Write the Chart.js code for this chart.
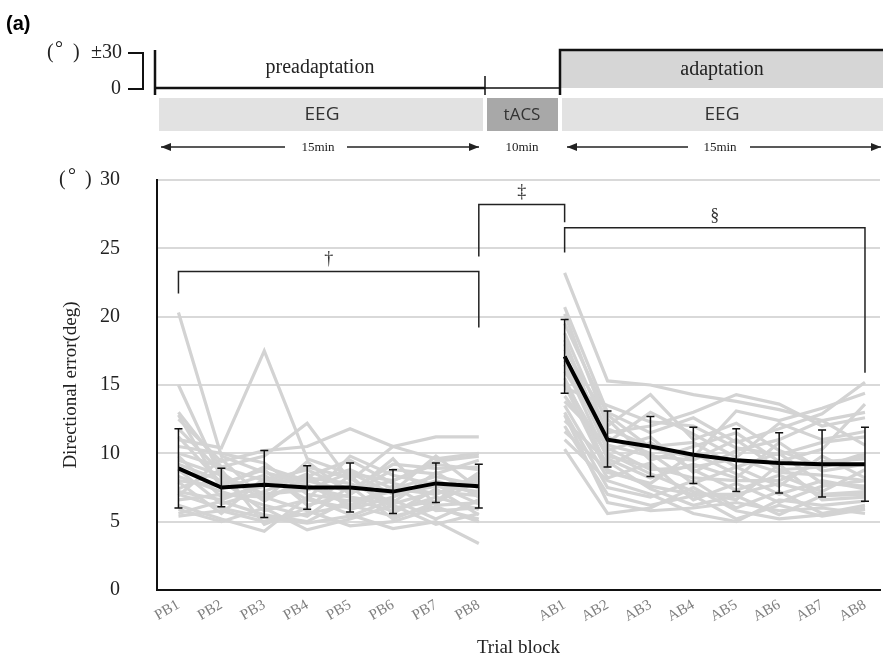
<!DOCTYPE html>
<html>
<head>
<meta charset="utf-8">
<script src="https://cdn.jsdelivr.net/npm/chart.js@4.4.0/dist/chart.umd.min.js"></script>
<style>
  html, body { margin: 0; padding: 0; background: #fff; }
</style>
</head>
<body>
<canvas id="trial-chart" width="883" height="663"></canvas>
<script>
const SERIF = '"Liberation Serif", "Times New Roman", serif';
const SANS = '"Open Sans", "Noto Sans", sans-serif';

// Trial blocks (slot 9 is the tACS gap)
const blockLabels = ["PB1", "PB2", "PB3", "PB4", "PB5", "PB6", "PB7", "PB8",
  "AB1", "AB2", "AB3", "AB4", "AB5", "AB6", "AB7", "AB8"];
const blockX = [1, 2, 3, 4, 5, 6, 7, 8, 10, 11, 12, 13, 14, 15, 16, 17];
const yTicks = [0, 5, 10, 15, 20, 25, 30];

// Group mean and error bar ends (deg)
const meanError = [8.9, 7.5, 7.7, 7.5, 7.5, 7.2, 7.8, 7.6,
  17.1, 11.0, 10.5, 9.9, 9.5, 9.3, 9.2, 9.2];
const errHigh = [11.8, 8.9, 10.2, 9.1, 9.3, 8.8, 9.3, 9.2,
  19.8, 13.1, 12.7, 11.9, 11.8, 11.5, 11.7, 11.9];
const errLow = [6.0, 6.1, 5.3, 5.9, 5.7, 5.6, 6.4, 6.0,
  14.4, 9.0, 8.3, 7.8, 7.2, 7.1, 6.8, 6.5];

// Individual participants
const subjects = [
  [20.3, 9.8, 8.6, 7.9, 8.8, 7.4, 8.3, 7.7, 23.2, 15.3, 15.0, 14.3, 13.8, 13.2, 12.4, 13.0],
  [11.0, 10.4, 17.5, 9.6, 8.5, 8.0, 9.2, 8.8, 20.7, 13.0, 11.5, 12.6, 10.8, 11.8, 12.9, 15.2],
  [15.0, 8.2, 7.0, 7.5, 6.8, 6.3, 7.2, 6.9, 20.2, 12.0, 14.3, 11.0, 12.2, 10.2, 9.0, 9.8],
  [13.0, 9.0, 9.8, 12.2, 8.0, 10.5, 9.6, 10.0, 19.5, 12.8, 10.4, 9.7, 13.1, 12.4, 13.3, 14.4],
  [12.5, 9.4, 10.2, 10.5, 11.8, 10.5, 11.2, 11.2, 18.8, 11.5, 12.0, 13.0, 14.3, 13.6, 12.0, 12.6],
  [11.8, 8.6, 6.5, 8.3, 9.5, 7.8, 7.0, 8.2, 18.0, 10.8, 13.0, 11.4, 9.7, 12.2, 11.0, 11.6],
  [11.2, 7.8, 8.8, 6.2, 7.0, 8.8, 8.5, 9.5, 17.6, 12.5, 9.5, 10.5, 11.5, 9.4, 10.3, 13.6],
  [10.5, 10.0, 9.3, 7.0, 6.5, 7.2, 9.8, 7.4, 17.0, 10.2, 11.2, 8.6, 10.2, 11.0, 12.4, 10.6],
  [9.8, 6.8, 7.6, 9.0, 8.2, 6.0, 6.5, 8.6, 16.5, 9.6, 8.2, 9.2, 8.2, 10.8, 8.7, 9.2],
  [9.2, 8.0, 5.8, 6.6, 9.8, 8.4, 7.7, 6.3, 16.0, 11.2, 10.0, 7.8, 9.0, 7.6, 9.8, 8.2],
  [8.8, 6.3, 7.2, 8.5, 5.9, 6.8, 8.0, 7.0, 15.5, 9.0, 10.8, 8.8, 7.3, 8.4, 7.2, 8.8],
  [8.3, 7.2, 6.2, 5.4, 7.6, 5.2, 6.4, 8.0, 15.0, 8.6, 7.8, 10.0, 8.5, 7.0, 8.0, 7.4],
  [7.9, 5.6, 8.2, 7.7, 6.2, 7.6, 5.8, 6.0, 14.2, 10.0, 8.5, 7.2, 6.6, 9.2, 6.6, 6.8],
  [7.4, 8.8, 4.8, 6.0, 8.4, 5.6, 7.4, 5.5, 13.5, 8.2, 9.3, 6.6, 7.8, 6.4, 7.6, 8.0],
  [7.0, 6.0, 5.3, 4.9, 5.4, 6.6, 5.2, 6.6, 13.0, 7.5, 6.8, 8.0, 6.0, 7.2, 5.6, 6.2],
  [6.6, 7.0, 6.8, 5.8, 4.7, 5.0, 6.0, 5.2, 12.4, 9.4, 7.4, 6.2, 6.9, 5.5, 6.9, 7.0],
  [6.2, 5.2, 4.3, 6.8, 5.5, 4.5, 5.0, 3.4, 12.0, 7.0, 6.2, 6.9, 5.2, 6.2, 5.4, 5.9],
  [5.6, 6.5, 5.5, 5.0, 6.6, 5.8, 6.8, 5.9, 11.0, 8.0, 7.0, 5.6, 5.0, 6.6, 6.2, 6.5],
  [5.9, 5.0, 6.0, 4.4, 5.2, 6.2, 4.8, 5.6, 10.3, 5.6, 6.0, 7.5, 5.8, 5.2, 5.5, 6.0],
  [10.0, 9.0, 8.0, 8.8, 7.3, 9.2, 8.9, 9.0, 14.8, 13.5, 12.3, 12.0, 10.4, 9.9, 10.8, 11.2],
  [8.0, 7.6, 9.0, 8.0, 7.2, 8.0, 9.4, 9.8, 13.8, 10.6, 9.8, 9.5, 11.0, 8.8, 9.0, 10.0],
  [9.5, 8.4, 7.0, 7.3, 8.6, 7.0, 7.6, 7.2, 16.8, 11.8, 10.5, 10.8, 9.0, 10.0, 7.8, 7.6],
  [7.2, 6.6, 7.8, 8.2, 7.8, 6.4, 8.6, 6.8, 15.2, 9.8, 9.0, 8.2, 8.0, 8.0, 9.4, 9.6],
  [12.8, 7.4, 8.4, 6.6, 6.0, 7.4, 7.0, 8.4, 18.3, 10.4, 8.8, 9.0, 9.6, 8.6, 8.4, 8.0],
  [6.9, 9.6, 6.6, 9.4, 7.0, 9.6, 6.2, 6.4, 11.6, 8.8, 7.6, 7.0, 7.0, 7.8, 7.0, 7.2],
  [5.4, 5.8, 5.0, 5.6, 6.2, 5.4, 6.1, 5.0, 12.8, 6.4, 5.8, 6.0, 6.4, 5.8, 6.0, 5.6],
];

// Significance brackets
const bracketMarks = ["†", "‡", "§"];
const bracketFrom = [1, 8, 10];
const bracketTo = [8, 10, 17];
const bracketTop = [23.3, 28.2, 26.5];
const bracketLeftEnd = [21.7, 24.4, 24.7];
const bracketRightEnd = [19.2, 26.9, 15.9];

function toPoints(vals) {
  const pts = blockX.map((x, i) => ({ x: x, y: vals[i] }));
  pts.splice(8, 0, { x: 9, y: null }); // break the line at the tACS gap
  return pts;
}

const datasets = subjects.map((s) => ({
  data: toPoints(s),
  borderColor: "#d3d3d3",
  borderWidth: 3.2,
  pointRadius: 0,
  tension: 0,
  order: 2,
}));
datasets.push({
  data: toPoints(meanError),
  borderColor: "#000",
  borderWidth: 4,
  pointRadius: 0,
  tension: 0,
  order: 0,
});

function arrow(ctx, x1, y1, x2, y2) {
  ctx.beginPath();
  ctx.moveTo(x1, y1);
  ctx.lineTo(x2, y2);
  ctx.stroke();
  const dir = Math.sign(x2 - x1);
  ctx.beginPath();
  ctx.moveTo(x2, y2);
  ctx.lineTo(x2 - dir * 10, y2 - 4);
  ctx.lineTo(x2 - dir * 10, y2 + 4);
  ctx.closePath();
  ctx.fill();
}

const errorBars = {
  id: "errorBars",
  afterDatasetsDraw(chart) {
    const { ctx, scales: { x, y } } = chart;
    ctx.save();
    ctx.strokeStyle = "#111";
    ctx.lineWidth = 1.5;
    blockX.forEach((bx, i) => {
      const px = x.getPixelForValue(bx);
      const top = y.getPixelForValue(errHigh[i]);
      const bot = y.getPixelForValue(errLow[i]);
      ctx.beginPath();
      ctx.moveTo(px, top);
      ctx.lineTo(px, bot);
      ctx.moveTo(px - 4, top);
      ctx.lineTo(px + 4, top);
      ctx.moveTo(px - 4, bot);
      ctx.lineTo(px + 4, bot);
      ctx.stroke();
    });
    ctx.restore();
  },
};

const brackets = {
  id: "brackets",
  afterDraw(chart) {
    const { ctx, scales: { x, y } } = chart;
    ctx.save();
    ctx.strokeStyle = "#222";
    ctx.lineWidth = 1.5;
    ctx.fillStyle = "#333";
    ctx.font = "18px " + SERIF;
    ctx.textAlign = "center";
    ctx.textBaseline = "bottom";
    bracketMarks.forEach((m, i) => {
      const x1 = x.getPixelForValue(bracketFrom[i]);
      const x2 = x.getPixelForValue(bracketTo[i]);
      const yt = y.getPixelForValue(bracketTop[i]);
      ctx.beginPath();
      ctx.moveTo(x1, y.getPixelForValue(bracketLeftEnd[i]));
      ctx.lineTo(x1, yt);
      ctx.lineTo(x2, yt);
      ctx.lineTo(x2, y.getPixelForValue(bracketRightEnd[i]));
      ctx.stroke();
      ctx.fillText(m, (x1 + x2) / 2, yt - 3);
    });
    ctx.restore();
  },
};

// Protocol schematic above the plot
const schematic = {
  id: "schematic",
  afterDraw(chart) {
    const { ctx, scales: { y } } = chart;
    ctx.save();
    ctx.fillStyle = "#000";
    ctx.font = 'bold 20px "Liberation Sans", Arial, sans-serif';
    ctx.textBaseline = "middle";
    ctx.fillText("(a)", 6, 24);

    // degree scale marker
    ctx.font = "20px " + SERIF;
    ctx.fillStyle = "#222";
    ctx.fillText("(", 47, 53);
    ctx.fillText("°", 55, 50);
    ctx.fillText(")", 73, 53);
    ctx.textAlign = "right";
    ctx.fillText("±30", 122, 53);
    ctx.fillText("0", 121, 89);
    ctx.strokeStyle = "#111";
    ctx.lineWidth = 2;
    ctx.beginPath();
    ctx.moveTo(128, 53);
    ctx.lineTo(143, 53);
    ctx.lineTo(143, 89);
    ctx.lineTo(128, 89);
    ctx.stroke();

    // preadaptation baseline
    ctx.lineWidth = 2.5;
    ctx.beginPath();
    ctx.moveTo(155, 50);
    ctx.lineTo(155, 95);
    ctx.moveTo(155, 88);
    ctx.lineTo(485, 88);
    ctx.stroke();
    ctx.lineWidth = 1.5;
    ctx.beginPath();
    ctx.moveTo(485, 76);
    ctx.lineTo(485, 95);
    ctx.moveTo(485, 88);
    ctx.lineTo(560, 88);
    ctx.stroke();

    // adaptation block
    ctx.fillStyle = "#d6d6d6";
    ctx.fillRect(560, 50, 323, 38);
    ctx.lineWidth = 2.5;
    ctx.beginPath();
    ctx.moveTo(560, 95);
    ctx.lineTo(560, 50);
    ctx.lineTo(883, 50);
    ctx.stroke();

    ctx.textAlign = "center";
    ctx.fillStyle = "#222";
    ctx.font = "20px " + SERIF;
    ctx.fillText("preadaptation", 320, 68);
    ctx.fillText("adaptation", 722, 70);

    // EEG / tACS bars
    ctx.fillStyle = "#e2e2e2";
    ctx.fillRect(159, 98, 324, 33);
    ctx.fillRect(562, 98, 321, 33);
    ctx.fillStyle = "#a8a8a8";
    ctx.fillRect(487, 98, 71, 33);
    ctx.fillStyle = "#333";
    ctx.font = "19px " + SANS;
    ctx.fillText("EEG", 322, 115);
    ctx.fillText("EEG", 722, 115);
    ctx.font = "17px " + SANS;
    ctx.fillText("tACS", 522, 115);

    // durations
    ctx.font = "13px " + SERIF;
    ctx.fillStyle = "#222";
    ctx.fillText("15min", 318, 148);
    ctx.fillText("10min", 522, 148);
    ctx.fillText("15min", 720, 148);
    ctx.strokeStyle = "#222";
    ctx.fillStyle = "#222";
    ctx.lineWidth = 1.5;
    arrow(ctx, 285, 147, 161, 147);
    arrow(ctx, 347, 147, 479, 147);
    arrow(ctx, 688, 147, 567, 147);
    arrow(ctx, 750, 147, 881, 147);

    // unit label next to the top y tick
    const y30 = y.getPixelForValue(30);
    ctx.font = "20px " + SERIF;
    ctx.textAlign = "left";
    ctx.fillText("(", 59, y30);
    ctx.fillText("°", 68, y30 - 3);
    ctx.fillText(")", 85, y30);
    ctx.restore();
  },
};

const ctx = document.getElementById("trial-chart").getContext("2d");
new Chart(ctx, {
  type: "line",
  data: { datasets: datasets },
  options: {
    responsive: false,
    animation: false,
    layout: { padding: { top: 180, right: 3, left: 0, bottom: 0 } },
    scales: {
      x: {
        type: "linear",
        min: 0.5,
        max: 17.35,
        afterBuildTicks: (scale) => {
          scale.ticks = blockX.map((v) => ({ value: v }));
        },
        afterFit: (scale) => {
          scale.height = 73;
        },
        ticks: {
          autoSkip: false,
          minRotation: 30,
          maxRotation: 30,
          padding: 6,
          color: "#808080",
          font: { family: SERIF, size: 15 },
          callback: (v) => {
            const i = blockX.indexOf(v);
            return i >= 0 ? blockLabels[i] : "";
          },
        },
        grid: { drawOnChartArea: false, drawTicks: false },
        border: { color: "#111", width: 2 },
        title: {
          display: true,
          text: "Trial block",
          color: "#222",
          font: { family: SERIF, size: 19 },
          padding: { top: 0, bottom: 4 },
        },
      },
      y: {
        min: 0,
        max: 30,
        afterBuildTicks: (scale) => {
          scale.ticks = yTicks.map((v) => ({ value: v }));
        },
        afterFit: (scale) => {
          scale.width = 157;
        },
        ticks: {
          padding: 37,
          color: "#222",
          font: { family: SERIF, size: 20 },
        },
        grid: { color: "#d9d9d9", lineWidth: 2, drawTicks: false },
        border: { color: "#111", width: 2 },
        title: {
          display: true,
          text: "Directional error(deg)",
          color: "#222",
          font: { family: SERIF, size: 19 },
          padding: { top: 60 },
        },
      },
    },
    plugins: {
      legend: { display: false },
      tooltip: { enabled: false },
    },
  },
  plugins: [errorBars, brackets, schematic],
});
</script>
</body>
</html>
